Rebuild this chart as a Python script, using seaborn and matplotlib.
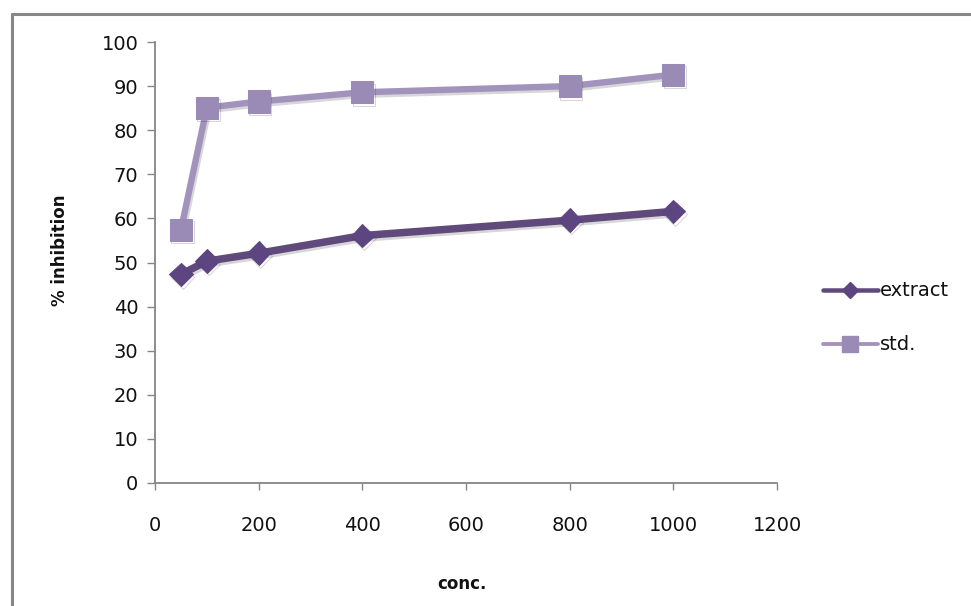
import matplotlib
matplotlib.use("Agg")
import matplotlib.pyplot as plt
import matplotlib.patheffects as pe
from matplotlib.lines import Line2D
import pandas as pd
import seaborn as sns

# Concentration series and % inhibition readings
conc = [50, 100, 200, 400, 800, 1000]
extract = [47.3, 50.3, 52.1, 56.1, 59.6, 61.6]
standard = [57.4, 85.1, 86.5, 88.6, 90.0, 92.6]
series_names = ["extract", "std."]
x_ticks = [0, 200, 400, 600, 800, 1000, 1200]
y_ticks = [0, 10, 20, 30, 40, 50, 60, 70, 80, 90, 100]

df = pd.DataFrame({
    "conc": conc * 2,
    "inhibition": extract + standard,
    "series": [series_names[0]] * len(conc) + [series_names[1]] * len(conc),
})

sns.set_theme(style="white")
plt.rcParams["font.family"] = ["DejaVu Sans"]

W, H = 971, 606
fig = plt.figure(figsize=(W / 100, H / 100), dpi=100)
ax = fig.add_axes([155 / W, 1 - 483 / H, 622 / W, 441 / H])

styles = {
    "extract": dict(color="#604a7b", mfc="#5d4581", marker="D", ms=12, lw=5.4),
    "std.": dict(color="#a293bd", mfc="#9a8ab6", marker="s", ms=16, lw=4.6),
}
shadow = [pe.SimpleLineShadow(offset=(1.2, -1.8), alpha=0.18, shadow_color="#222222"), pe.Normal()]

for name in series_names:
    st = styles[name]
    sub = df[df["series"] == name]
    sns.lineplot(data=sub, x="conc", y="inhibition", ax=ax, color=st["color"],
                 marker=st["marker"], markersize=st["ms"], markerfacecolor=st["mfc"],
                 markeredgecolor=st["mfc"], linewidth=st["lw"], label=name,
                 legend=False, zorder=3 if name == "extract" else 2)

for line in ax.get_lines():
    line.set_path_effects(shadow)

ax.set_xlim(0, 1200)
ax.set_ylim(0, 100)
ax.set_xticks(x_ticks)
ax.set_yticks(y_ticks)
ax.set_xticklabels([str(v) for v in x_ticks])
ax.set_yticklabels([str(v) for v in y_ticks])

spine_col = "#868686"
for side in ["top", "right"]:
    ax.spines[side].set_visible(False)
for side in ["left", "bottom"]:
    ax.spines[side].set_color(spine_col)
    ax.spines[side].set_linewidth(1.3)
ax.tick_params(axis="y", direction="out", length=6, width=1, color=spine_col,
               pad=6, labelsize=14, labelcolor="#111111", left=True)
ax.tick_params(axis="x", direction="out", length=5, width=1, color=spine_col,
               pad=19, labelsize=14, labelcolor="#111111", bottom=True)

ax.set_xlabel("conc.", fontsize=12, fontweight="bold", color="#111111")
ax.set_ylabel("% inhibition", fontsize=12, fontweight="bold", color="#111111")
ax.xaxis.set_label_coords((462 - 155) / 622, -(575 - 483) / 441)
ax.yaxis.set_label_coords(-(155 - 69) / 622, (483 - 250) / 441)

# Legend at the right side of the chart
handles = []
for name in series_names:
    st = styles[name]
    handles.append(Line2D([0], [0], color=st["color"], lw=st["lw"] * 0.6,
                          marker=st["marker"], ms=st["ms"] * 0.7,
                          mfc=st["mfc"], mec=st["mfc"]))
fig.legend(handles, series_names, loc="center left", bbox_to_anchor=(813 / W, 1 - 318 / H),
           frameon=False, fontsize=14, handlelength=2.85, handletextpad=0.1,
           labelspacing=1.8, borderpad=0, labelcolor="#111111")

# Outer chart-area frame (top and left edges)
frame_col = "#878787"
fig.add_artist(Line2D([12 / W, 1], [1 - 14 / H, 1 - 14 / H], transform=fig.transFigure,
                      color=frame_col, lw=2.2))
fig.add_artist(Line2D([12 / W, 12 / W], [0, 1 - 14 / H], transform=fig.transFigure,
                      color=frame_col, lw=2.2))

fig.savefig("out.png", dpi=100, facecolor="white")
